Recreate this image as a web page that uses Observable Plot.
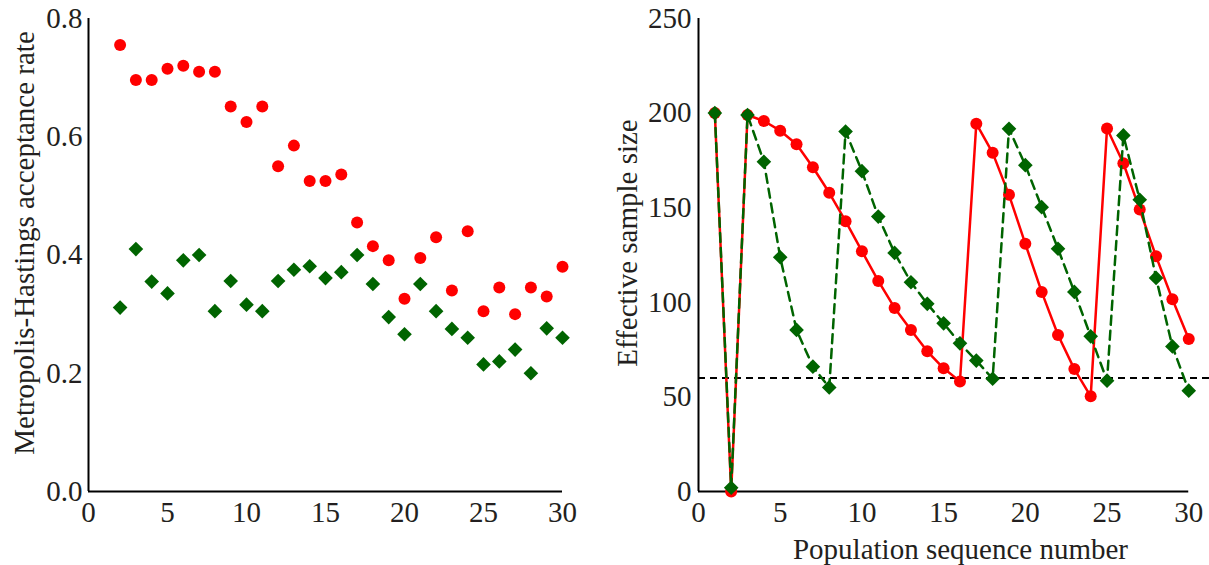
<!DOCTYPE html>
<html><head><meta charset="utf-8">
<script src="https://cdn.jsdelivr.net/npm/d3@7"></script>
<script src="https://cdn.jsdelivr.net/npm/@observablehq/plot@0.6"></script>
<style>
body{margin:0;background:#fff}
#wrap{display:flex;width:1209px;height:565px;overflow:hidden}
#wrap svg, #wrap svg text{font-family:"Liberation Serif","DejaVu Serif",serif !important}
</style>
</head><body><div id="wrap"></div>
<script>
// ---- data ----
const populations = [1,2,3,4,5,6,7,8,9,10,11,12,13,14,15,16,17,18,19,20,21,22,23,24,25,26,27,28,29,30];
const accPops = [2,3,4,5,6,7,8,9,10,11,12,13,14,15,16,17,18,19,20,21,22,23,24,25,26,27,28,29,30];
const accRed = [0.755,0.696,0.696,0.715,0.72,0.71,0.71,0.651,0.625,0.651,0.55,0.585,0.525,0.525,0.536,0.455,0.415,0.391,0.326,0.395,0.43,0.34,0.44,0.305,0.345,0.30,0.345,0.33,0.38];
const accGreen = [0.311,0.41,0.355,0.335,0.391,0.40,0.305,0.356,0.316,0.305,0.356,0.375,0.381,0.361,0.371,0.40,0.351,0.295,0.266,0.351,0.305,0.275,0.26,0.215,0.22,0.24,0.20,0.276,0.26];
const essRed = [200,0,199,195.8,190.7,183.5,171.4,157.9,142.9,127,111.3,97,85.4,74.1,65.1,58.2,194.4,179,156.8,130.9,105.5,82.7,64.7,50.3,191.9,173.5,149,124.3,101.6,80.6];
const essGreen = [200,2,199,174.3,123.8,85.4,66,55,190.3,169.3,145.3,126.1,110.6,99.2,88.9,78.3,69.2,59.6,191.7,172.5,150.3,128.3,105.5,82,58.6,188.2,154.2,112.9,76.7,53.3];
const essThreshold = 60;
const xTicks = [0,5,10,15,20,25,30];
const accTicks = [0,0.2,0.4,0.6,0.8];
const essTicks = [0,50,100,150,200,250];
const labels = {
  accY: "Metropolis-Hastings acceptance rate",
  essY: "Effective sample size",
  x: "Population sequence number"
};

const RED = "#ff0000", GREEN = "#006400", INK = "#231f20";
const textStyle = 'font-family: "Liberation Serif", "DejaVu Serif", serif; font-size: 29px; color: #231f20; background: #fff; overflow: visible;';

const accData = accPops.map((p, i) => ({p, red: accRed[i], green: accGreen[i]}));
const essData = populations.map((p, i) => ({p, red: essRed[i], green: essGreen[i]}));

const left = Plot.plot({
  width: 600, height: 565,
  marginLeft: 88, marginRight: 38, marginTop: 18, marginBottom: 74,
  style: textStyle,
  x: {domain: [0, 30], ticks: xTicks, tickSize: 0, tickPadding: 10, label: null},
  y: {domain: [0, 0.8], ticks: accTicks, tickSize: 0, tickPadding: 6, tickFormat: d3.format(".1f"), label: null},
  marks: [
    Plot.ruleX([0], {stroke: "black", strokeWidth: 2}),
    Plot.ruleY([0], {stroke: "black", strokeWidth: 2}),
    Plot.dot(accData, {x: "p", y: "red", r: 6, fill: RED, symbol: "circle"}),
    Plot.dot(accData, {x: "p", y: "green", r: 6.6, fill: GREEN, symbol: "diamond2"}),
    Plot.text([labels.accY], {frameAnchor: "left", textAnchor: "middle", rotate: -90, dx: -64, dy: -12, lineAnchor: "middle", fontSize: 29, fill: INK})
  ]
});

const right = Plot.plot({
  width: 609, height: 565,
  marginLeft: 98, marginRight: 0, marginTop: 18, marginBottom: 74,
  style: textStyle,
  x: {domain: [0, 31.27], ticks: xTicks, tickSize: 0, tickPadding: 10, label: null},
  y: {domain: [0, 250], ticks: essTicks, tickSize: 0, tickPadding: 7, label: null},
  marks: [
    Plot.ruleX([0], {stroke: "black", strokeWidth: 2}),
    Plot.ruleY([0], {x1: d3.min(xTicks), x2: d3.max(xTicks), stroke: "black", strokeWidth: 2}),
    Plot.ruleY([essThreshold], {stroke: "black", strokeWidth: 1.8, strokeDasharray: "7,5"}),
    Plot.line(essData, {x: "p", y: "red", stroke: RED, strokeWidth: 2.5}),
    Plot.dot(essData, {x: "p", y: "red", r: 6, fill: RED, symbol: "circle"}),
    Plot.line(essData, {x: "p", y: "green", stroke: GREEN, strokeWidth: 2.5, strokeDasharray: "9,6"}),
    Plot.dot(essData, {x: "p", y: "green", r: 6.6, fill: GREEN, symbol: "diamond2"}),
    Plot.text([labels.essY], {frameAnchor: "left", textAnchor: "middle", rotate: -90, dx: -71, dy: -12, lineAnchor: "middle", fontSize: 29, fill: INK}),
    Plot.text([labels.x], {frameAnchor: "bottom", textAnchor: "middle", dx: 6.5, dy: 58, lineAnchor: "middle", fontSize: 29, fill: INK})
  ]
});

document.getElementById("wrap").append(left, right);
</script>
</body></html>
